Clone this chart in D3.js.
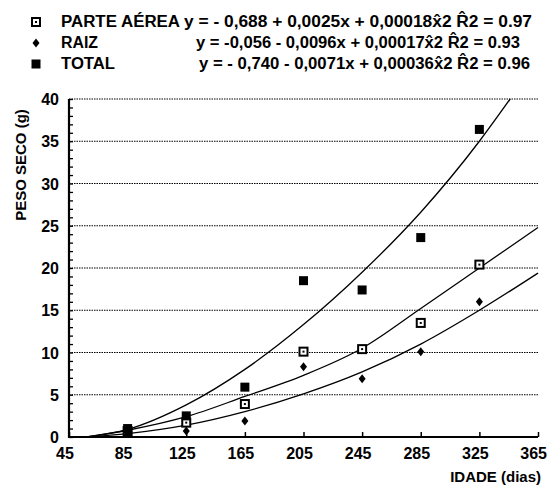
<!DOCTYPE html>
<html>
<head>
<meta charset="utf-8">
<script src="https://cdn.jsdelivr.net/npm/d3@7"></script>
<style>
  body { margin: 0; background: #fff; }
  text { font-family: "Liberation Sans", Arial, sans-serif; font-weight: bold; fill: #000; }
</style>
</head>
<body>
<svg id="chart"></svg>
<script>
    // dados
    var idade = [85, 125, 165, 205, 245, 285, 325];
    var parteAerea = [0.7, 1.7, 3.9, 10.1, 10.4, 13.5, 20.4];
    var raiz = [0.4, 0.7, 1.9, 8.3, 6.9, 10.1, 16.0];
    var total = [1.0, 2.5, 5.9, 18.5, 17.4, 23.6, 36.4];

    // curvas ajustadas
    var curvaAerea = [[57, 0], [85, 0.8], [125, 2.4], [165, 4.8], [205, 7.3], [245, 10.5], [285, 15.2], [325, 20], [365, 24.8]];
    var curvaRaiz = [[57, 0], [85, 0.4], [125, 1.4], [165, 3.0], [205, 5.1], [245, 7.7], [285, 11.0], [325, 15], [365, 19.4]];
    var curvaTotal = [[57, 0], [85, 0.9], [125, 3.8], [165, 8.0], [205, 13.3], [245, 19.5], [285, 26.6], [325, 35], [346, 40]];

    var xTicks = [45, 85, 125, 165, 205, 245, 285, 325, 365];
    var yTicks = [0, 5, 10, 15, 20, 25, 30, 35, 40];

    var legenda = [
        {nome: "PARTE AÉREA", eq: "y = - 0,688 + 0,0025x + 0,00018x\u03022 R\u03022 = 0.97", tipo: "aberto"},
        {nome: "RAIZ", eq: "y = -0,056 - 0,0096x + 0,00017x\u03022 R\u03022 = 0.93", tipo: "losango"},
        {nome: "TOTAL", eq: "y = - 0,740 - 0,0071x + 0,00036x\u03022 R\u03022 = 0.96", tipo: "cheio"}
    ];

    var svg = d3.select("#chart")
        .attr("width", 549)
        .attr("height", 487);

    var x = d3.scaleLinear().domain([45, 365]).range([69, 538]);
    var y = d3.scaleLinear().domain([0, 40]).range([437, 99]);

    // grade pontilhada
    svg.append("g").selectAll("line")
        .data(yTicks.filter(d => d > 0))
        .enter().append("line")
        .attr("x1", x(45)).attr("x2", x(365))
        .attr("y1", d => y(d)).attr("y2", d => y(d))
        .attr("stroke", "#000")
        .attr("stroke-width", 1)
        .attr("stroke-dasharray", "1.5,1");

    // eixo y
    var yAxis = d3.axisRight(y).tickValues(d3.range(0, 41, 1)).tickSize(4).tickFormat("");
    svg.append("g")
        .attr("transform", "translate(" + x(45) + ",0)")
        .call(yAxis)
        .call(g => g.select(".domain").remove())
        .call(g => g.selectAll("line").attr("stroke-width", 1.3));

    svg.append("g").selectAll("text")
        .data(yTicks)
        .enter().append("text")
        .attr("x", 59)
        .attr("y", d => y(d) + 6)
        .attr("text-anchor", "end")
        .attr("font-size", 16)
        .text(d => d);

    // eixo x
    var xAxis = d3.axisTop(x).tickValues(xTicks).tickSize(5).tickFormat("");
    svg.append("g")
        .attr("transform", "translate(0," + y(0) + ")")
        .call(xAxis)
        .call(g => g.select(".domain").remove())
        .call(g => g.selectAll("line").attr("stroke-width", 1.5));

    svg.append("g").selectAll("text")
        .data(xTicks)
        .enter().append("text")
        .attr("x", d => d == 365 ? 547 : x(d) - 4)
        .attr("y", 459)
        .attr("text-anchor", d => d == 365 ? "end" : "middle")
        .attr("font-size", 16)
        .text(d => d);

    svg.append("line")
        .attr("x1", x(45)).attr("x2", x(45))
        .attr("y1", y(40)).attr("y2", y(0) + 1)
        .attr("stroke", "#000").attr("stroke-width", 2.2);
    svg.append("line")
        .attr("x1", x(45) - 1).attr("x2", x(365))
        .attr("y1", y(0)).attr("y2", y(0))
        .attr("stroke", "#000").attr("stroke-width", 2.2);

    svg.append("text")
        .attr("x", 541).attr("y", 482)
        .attr("text-anchor", "end")
        .attr("font-size", 15)
        .text("IDADE (dias)");

    svg.append("text")
        .attr("transform", "translate(26,165) rotate(-90)")
        .attr("text-anchor", "middle")
        .attr("font-size", 15)
        .text("PESO SECO (g)");

    // curvas
    var linha = d3.line()
        .x(d => x(d[0]))
        .y(d => y(d[1]))
        .curve(d3.curveMonotoneX);

    [curvaAerea, curvaRaiz, curvaTotal].forEach(c => {
        svg.append("path")
            .datum(c)
            .attr("d", linha)
            .attr("fill", "none")
            .attr("stroke", "#000")
            .attr("stroke-width", 1.3);
    });

    // marcadores
    function marcador(g, tipo) {
        if (tipo == "aberto") {
            g.append("rect").attr("x", -4).attr("y", -4).attr("width", 8).attr("height", 8)
                .attr("fill", "#fff").attr("stroke", "#000").attr("stroke-width", 2);
            g.append("rect").attr("x", -1).attr("y", -1).attr("width", 2).attr("height", 2).attr("fill", "#000");
        } else if (tipo == "losango") {
            g.append("path").attr("d", "M0,-4.5L3.5,0L0,4.5L-3.5,0Z").attr("fill", "#000");
        } else {
            g.append("rect").attr("x", -4.5).attr("y", -4.5).attr("width", 9).attr("height", 9).attr("fill", "#000");
        }
    }

    var series = [
        {valores: parteAerea, tipo: "aberto"},
        {valores: raiz, tipo: "losango"},
        {valores: total, tipo: "cheio"}
    ];

    series.forEach(s => {
        svg.append("g").selectAll("g")
            .data(s.valores)
            .enter().append("g")
            .attr("transform", (d, i) => "translate(" + x(idade[i]) + "," + y(d) + ")")
            .each(function () { marcador(d3.select(this), s.tipo); });
    });

    // legenda
    var linhasY = [27, 48, 69];
    var eqX = [184, 196, 199];
    var eqW = [348, 324, 331];
    var nomeW = [119, 37, 54];
    legenda.forEach((l, i) => {
        var g = svg.append("g").attr("transform", "translate(36," + (linhasY[i] - 5) + ")");
        marcador(g, l.tipo);
        svg.append("text")
            .attr("x", 61).attr("y", linhasY[i])
            .attr("font-size", 16)
            .attr("textLength", nomeW[i])
            .attr("lengthAdjust", "spacingAndGlyphs")
            .text(l.nome);
        svg.append("text")
            .attr("x", eqX[i]).attr("y", linhasY[i])
            .attr("font-size", 16)
            .attr("textLength", eqW[i])
            .attr("lengthAdjust", "spacingAndGlyphs")
            .text(l.eq);
    });
</script>
</body>
</html>
